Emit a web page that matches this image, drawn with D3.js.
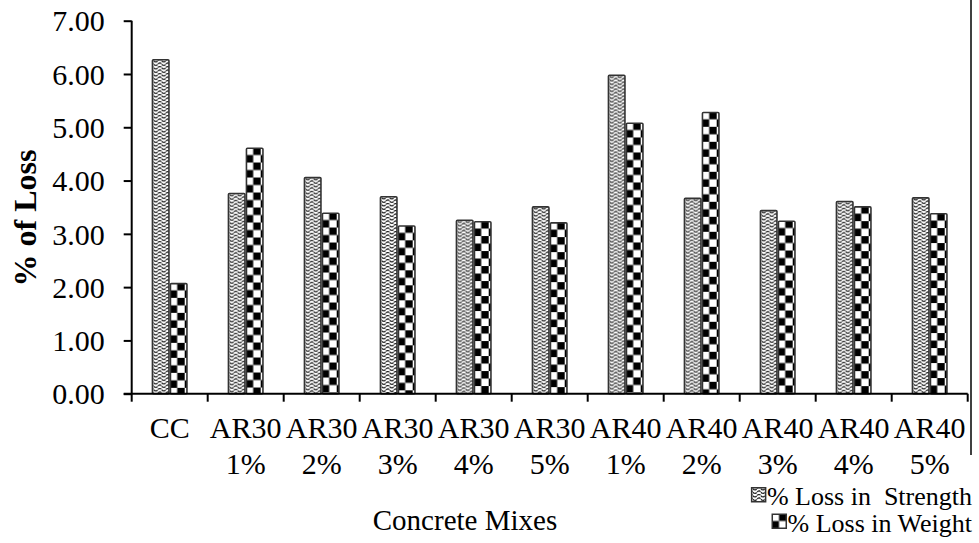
<!DOCTYPE html>
<html lang="en">
<head>
    <meta charset="UTF-8">
    <title>% of Loss</title>
    <script src="https://cdn.jsdelivr.net/npm/d3@7/dist/d3.min.js"></script>
    <style>
        body {
            margin: 0;
            background: #fff;
        }
        text {
            font-family: "Liberation Serif", "Times New Roman", serif;
            fill: #000;
        }
    </style>
</head>
<body>
<script>
    var mixes = ["CC", "AR30 1%", "AR30 2%", "AR30 3%", "AR30 4%", "AR30 5%",
                 "AR40 1%", "AR40 2%", "AR40 3%", "AR40 4%", "AR40 5%"];
    var lossStrength = [6.28, 3.77, 4.07, 3.71, 3.27, 3.52, 5.99, 3.68, 3.45, 3.62, 3.69];
    var lossWeight   = [2.08, 4.62, 3.40, 3.16, 3.24, 3.22, 5.09, 5.29, 3.25, 3.52, 3.39];
    var yTicks = [0, 1, 2, 3, 4, 5, 6, 7];
    var seriesNames = ["% Loss in  Strength", "% Loss in Weight"];

    var width = 979, height = 543;
    var plotLeft = 131.7, plotRight = 967.7, plotTop = 20.7, plotBottom = 393.7;

    var svg = d3.select("body").append("svg")
            .attr("width", width)
            .attr("height", height);

    var defs = svg.append("defs");

    // herringbone-ish fill for strength
    var ps = defs.append("pattern")
            .attr("id", "pStrength")
            .attr("patternUnits", "userSpaceOnUse")
            .attr("width", 8).attr("height", 7);
    ps.append("rect").attr("width", 8).attr("height", 7).attr("fill", "#fff");
    ps.append("path")
            .attr("d", "M0,0 L4,3.5 L8,0 M0,3.5 L4,7 L8,3.5")
            .attr("fill", "none")
            .attr("stroke", "#111")
            .attr("stroke-width", 1.3)
            .attr("stroke-dasharray", "2,0.8");

    // checkerboard for weight
    var c = 7.5;
    var pw = defs.append("pattern")
            .attr("id", "pWeight")
            .attr("patternUnits", "userSpaceOnUse")
            .attr("width", c * 2).attr("height", c * 2);
    pw.append("rect").attr("width", c * 2).attr("height", c * 2).attr("fill", "#fff");
    pw.append("rect").attr("x", c).attr("y", 0).attr("width", c).attr("height", c).attr("fill", "#000");
    pw.append("rect").attr("x", 0).attr("y", c).attr("width", c).attr("height", c).attr("fill", "#000");

    var x = d3.scaleBand().domain(mixes).range([plotLeft, plotRight]).padding(0);
    var y = d3.scaleLinear().domain([0, 7]).range([plotBottom, plotTop]);
    var barW = 18;

    var rows = mixes.map(function (m, i) {
        return {mix: m, s: lossStrength[i], w: lossWeight[i]};
    });

    // bars
    var bars = [];
    rows.forEach(function (d) {
        var cx = x(d.mix) + x.bandwidth() / 2;
        bars.push({x: cx - barW, v: d.s, fill: "url(#pStrength)"});
        bars.push({x: cx, v: d.w, fill: "url(#pWeight)"});
    });

    var g = svg.selectAll(".bar")
            .data(bars)
            .enter().append("g")
            .attr("class", "bar")
            .attr("transform", function (d) {
                return "translate(" + d.x + "," + y(d.v) + ")";
            });
    g.append("rect")
            .attr("x", 0.75)
            .attr("y", 0.75)
            .attr("width", barW - 1.5)
            .attr("height", function (d) { return y(0) - y(d.v) - 0.75; })
            .attr("rx", 1)
            .attr("fill", function (d) { return d.fill; })
            .attr("stroke", "#333")
            .attr("stroke-width", 1.6);

    // y axis
    var yAxis = d3.axisLeft(y)
            .tickValues(yTicks)
            .tickFormat(d3.format(".2f"))
            .tickSize(8)
            .tickPadding(19);
    var ya = svg.append("g")
            .attr("transform", "translate(" + plotLeft + ",0)")
            .call(yAxis);
    ya.select(".domain").attr("d", "M0," + plotTop + "V" + plotBottom).attr("stroke", "#000").attr("stroke-width", 2);
    ya.selectAll(".tick line").attr("stroke", "#000").attr("stroke-width", 2);
    ya.selectAll(".tick text")
            .style("font-size", "30px")
            .style("font-family", "Liberation Serif, serif")
            .attr("dy", "0.34em");

    // x axis
    svg.append("line")
            .attr("x1", plotLeft - 8).attr("x2", plotRight)
            .attr("y1", plotBottom).attr("y2", plotBottom)
            .attr("stroke", "#000").attr("stroke-width", 2);
    var edges = mixes.map(function (m) { return x(m); }).concat([plotRight]);
    svg.selectAll(".xtick")
            .data(edges)
            .enter().append("line")
            .attr("class", "xtick")
            .attr("x1", function (d) { return d; })
            .attr("x2", function (d) { return d; })
            .attr("y1", plotBottom).attr("y2", plotBottom + 8)
            .attr("stroke", "#000").attr("stroke-width", 2);

    var xl = svg.selectAll(".xlab")
            .data(mixes)
            .enter().append("text")
            .attr("class", "xlab")
            .attr("text-anchor", "middle")
            .style("font-size", "30px");
    xl.each(function (d) {
        var parts = d.split(" ");
        var t = d3.select(this);
        var cx = x(d) + x.bandwidth() / 2;
        parts.forEach(function (p, i) {
            t.append("tspan").attr("x", cx).attr("y", 438 + i * 36).text(p);
        });
    });

    // axis titles
    svg.append("text")
            .attr("transform", "translate(36,218) rotate(-90)")
            .attr("text-anchor", "middle")
            .style("font-size", "32px")
            .style("font-weight", "bold")
            .text("% of Loss");

    svg.append("text")
            .attr("x", 465)
            .attr("y", 530)
            .attr("text-anchor", "middle")
            .style("font-size", "29px")
            .text("Concrete Mixes");

    // right frame line
    svg.append("line")
            .attr("x1", 971).attr("x2", 971)
            .attr("y1", 0).attr("y2", 455)
            .attr("stroke", "#000").attr("stroke-width", 1.5);

    // legend
    var lg = svg.selectAll(".leg")
            .data(seriesNames)
            .enter().append("g")
            .attr("class", "leg")
            .attr("transform", function (d, i) {
                return "translate(0," + (505 + i * 26.5) + ")";
            });
    lg.append("text")
            .attr("x", 972)
            .attr("text-anchor", "end")
            .style("font-size", "26px")
            .style("white-space", "pre")
            .text(function (d) { return d; })
            .each(function (d) {
                var bb = this.getBBox();
                var fill = d === seriesNames[0] ? "url(#pStrength)" : "url(#pWeight)";
                d3.select(this.parentNode).append("g")
                        .attr("transform", "translate(" + (bb.x - 16) + ",-18)")
                        .append("rect")
                        .attr("x", 0.75).attr("y", 0.75)
                        .attr("width", 14).attr("height", 14)
                        .attr("fill", fill)
                        .attr("stroke", "#333")
                        .attr("stroke-width", 1.5);
            });
</script>
</body>
</html>
